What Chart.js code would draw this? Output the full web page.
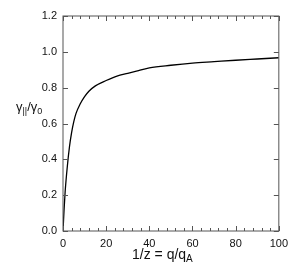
<!DOCTYPE html>
<html>
<head>
<meta charset="utf-8">
<script src="https://cdn.jsdelivr.net/npm/chart.js@4"></script>
<style>
  body { margin: 0; background: #fff; }
  canvas { display: block; }
</style>
</head>
<body>
<canvas id="chart" width="294" height="273"></canvas>
<script>
// curve
const invZ = [0, 0.5, 1, 2, 3, 4, 5, 6, 8, 10, 12, 15, 20, 25, 30, 35, 40, 50, 60, 70, 80, 90, 100];
const ratio = [0, 0.12, 0.22, 0.36, 0.47, 0.55, 0.61, 0.655, 0.71, 0.75, 0.78, 0.81, 0.84, 0.865, 0.88, 0.895, 0.91, 0.925, 0.937, 0.945, 0.953, 0.96, 0.967];
const xTicks = [0, 20, 40, 60, 80, 100];
const yTicks = [0, 0.2, 0.4, 0.6, 0.8, 1.0, 1.2];

const font = 'Liberation Sans, Arial, sans-serif';

// frame, inward ticks and the axis titles with subscripts
const framePlugin = {
    id: 'frame',
    afterDraw(chart) {
        const ctx = chart.ctx;
        const a = chart.chartArea;
        const xs = chart.scales.x, ys = chart.scales.y;
        ctx.save();
        ctx.strokeStyle = '#555';
        ctx.lineWidth = 1;
        ctx.strokeRect(a.left, a.top, a.right - a.left, a.bottom - a.top);
        ctx.beginPath();
        for (let v = 0; v <= 100; v += 4) {
            const px = Math.round(xs.getPixelForValue(v)) + 0.5;
            const len = v % 20 === 0 ? 5 : 3;
            ctx.moveTo(px, a.bottom); ctx.lineTo(px, a.bottom - len);
            ctx.moveTo(px, a.top); ctx.lineTo(px, a.top + len);
        }
        yTicks.forEach(v => {
            const py = Math.round(ys.getPixelForValue(v)) + 0.5;
            ctx.moveTo(a.left, py); ctx.lineTo(a.left + 5, py);
            ctx.moveTo(a.right, py); ctx.lineTo(a.right - 5, py);
        });
        ctx.stroke();

        ctx.fillStyle = '#111';
        ctx.textBaseline = 'alphabetic';
        // x title: 1/z = q/qA
        ctx.font = '14px ' + font;
        let x = 132, y = 259;
        ctx.fillText('1/z = q/q', x, y);
        x += ctx.measureText('1/z = q/q').width;
        ctx.font = '10px ' + font;
        ctx.fillText('A', x, y + 3);
        // y title: γ∥/γ0
        ctx.font = '13px ' + font;
        x = 16; y = 111;
        ctx.fillText('γ', x, y);
        x += ctx.measureText('γ').width;
        ctx.font = '9px ' + font;
        ctx.fillText('||', x, y + 3);
        x += ctx.measureText('||').width;
        ctx.font = '13px ' + font;
        ctx.fillText('/γ', x, y);
        x += ctx.measureText('/γ').width;
        ctx.font = '9px ' + font;
        ctx.fillText('0', x, y + 3);
        ctx.restore();
    }
};

new Chart(document.getElementById('chart'), {
    type: 'scatter',
    data: {
        datasets: [{
            data: invZ.map((v, i) => ({ x: v, y: ratio[i] })),
            showLine: true,
            borderColor: '#000',
            borderWidth: 1.3,
            pointRadius: 0,
            cubicInterpolationMode: 'monotone',
            fill: false
        }]
    },
    options: {
        responsive: false,
        animation: false,
        layout: { padding: { left: 0, right: 15, top: 16, bottom: 0 } },
        plugins: { legend: { display: false }, tooltip: { enabled: false } },
        scales: {
            x: {
                type: 'linear', min: 0, max: 100,
                afterFit: s => { s.height = 42; },
                afterBuildTicks: s => { s.ticks = xTicks.map(v => ({ value: v })); },
                grid: { display: false, drawTicks: false },
                border: { display: false },
                ticks: { padding: 6, color: '#111', font: { family: font, size: 11 }, maxRotation: 0, autoSkip: false }
            },
            y: {
                type: 'linear', min: 0, max: 1.2,
                afterFit: s => { s.width = 63; },
                afterBuildTicks: s => { s.ticks = yTicks.map(v => ({ value: v })); },
                grid: { display: false, drawTicks: false },
                border: { display: false },
                ticks: { padding: 6, color: '#111', font: { family: font, size: 11 }, autoSkip: false,
                    callback: v => v.toFixed(1) }
            }
        }
    },
    plugins: [framePlugin]
});
</script>
</body>
</html>
